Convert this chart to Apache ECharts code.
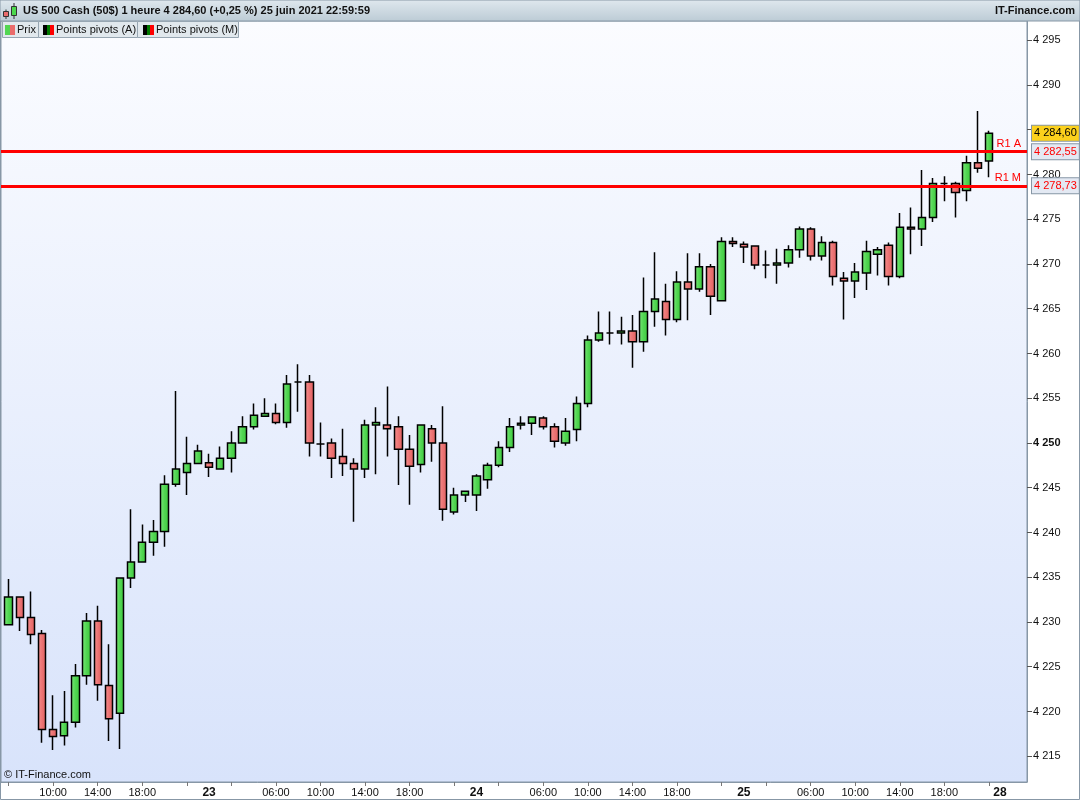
<!DOCTYPE html>
<html><head><meta charset="utf-8">
<script src="https://cdn.jsdelivr.net/npm/echarts@6/dist/echarts.min.js"></script>
<style>html,body{margin:0;padding:0;background:#fff}#c{width:1080px;height:800px}</style>
</head><body><div id="c"></div>
<script>
// Hourly candles, 22 June 2021 06:00 -> 25 June 2021 22:00
const opens  = [4229.7,4232.8,4230.5,4228.7,4218.0,4217.3,4218.8,4224.0,4230.1,4222.9,
                4219.8,4234.9,4236.7,4238.9,4240.1,4245.4,4246.7,4247.7,4247.8,4247.1,
                4248.3,4250.0,4251.8,4253.0,4253.3,4252.3,4256.8,4256.8,4249.9,4250.0,
                4248.5,4247.7,4247.1,4252.0,4252.0,4251.8,4249.3,4247.6,4251.6,4250.0,
                4242.3,4244.2,4244.2,4245.9,4247.5,4249.5,4252.0,4252.2,4252.8,4251.8,
                4250.0,4251.5,4254.4,4261.5,4262.3,4262.3,4262.5,4261.3,4264.7,4265.8,
                4263.8,4268.0,4267.2,4269.7,4265.9,4272.5,4272.2,4272.0,4269.9,4269.9,
                4270.1,4271.6,4273.9,4270.9,4272.4,4268.4,4268.1,4269.0,4271.1,4272.1,
                4268.6,4274.1,4273.9,4275.2,4279.0,4279.0,4278.2,4281.3,4281.5];
const closes = [4232.8,4230.5,4228.6,4218.0,4217.2,4218.8,4224.0,4230.1,4223.0,4219.2,
                4234.9,4236.7,4238.9,4240.1,4245.4,4247.1,4247.7,4249.1,4247.3,4248.3,
                4250.0,4251.8,4253.1,4253.3,4252.3,4256.6,4256.8,4250.0,4249.9,4248.3,
                4247.7,4247.1,4252.0,4252.3,4251.6,4249.3,4247.4,4252.0,4250.0,4242.6,
                4244.2,4244.6,4246.3,4247.5,4249.5,4251.8,4252.2,4252.9,4251.8,4250.2,
                4251.3,4254.4,4261.5,4262.3,4262.3,4262.5,4261.3,4264.7,4266.1,4263.8,
                4268.0,4267.2,4269.7,4266.4,4272.5,4272.3,4271.9,4269.9,4269.9,4270.1,
                4271.6,4273.9,4270.9,4272.4,4268.6,4268.1,4269.1,4271.4,4271.6,4268.6,
                4274.1,4273.9,4275.2,4279.0,4279.0,4278.0,4281.3,4280.7,4284.6];
const lows   = [4229.7,4229.0,4227.5,4216.5,4215.7,4216.2,4218.2,4223.0,4221.2,4216.7,
                4215.8,4233.8,4236.7,4237.4,4238.4,4245.1,4244.2,4247.7,4246.2,4247.1,
                4246.7,4250.0,4251.5,4253.0,4252.1,4251.7,4253.5,4248.5,4248.5,4246.1,
                4246.3,4241.2,4246.1,4246.5,4248.5,4245.3,4243.1,4246.7,4247.9,4241.3,
                4242.0,4243.4,4242.4,4244.9,4247.3,4249.0,4251.5,4250.9,4251.5,4249.5,
                4249.7,4250.2,4254.0,4261.3,4261.0,4261.0,4258.4,4260.2,4263.0,4262.0,
                4263.5,4263.7,4266.9,4264.3,4265.8,4271.9,4270.1,4269.4,4268.4,4267.8,
                4269.6,4270.7,4270.4,4270.4,4267.6,4263.8,4266.2,4267.1,4268.7,4267.6,
                4268.4,4271.1,4272.0,4274.7,4277.0,4275.2,4277.0,4280.2,4279.7];
const highs  = [4234.8,4232.8,4233.4,4229.1,4221.8,4222.3,4225.3,4231.0,4231.8,4227.5,
                4234.9,4242.6,4240.9,4241.4,4246.4,4255.8,4250.7,4249.8,4248.8,4249.6,
                4251.3,4253.0,4254.4,4255.0,4254.4,4257.6,4258.8,4257.6,4252.3,4250.5,
                4251.6,4248.3,4252.6,4254.0,4256.3,4253.0,4250.9,4252.0,4252.0,4254.1,
                4245.0,4244.6,4246.5,4247.8,4250.2,4252.8,4253.0,4253.0,4253.0,4252.2,
                4252.8,4255.2,4262.0,4264.7,4264.7,4264.1,4264.3,4268.5,4271.3,4267.8,
                4269.2,4271.2,4271.2,4270.0,4273.0,4273.0,4272.5,4272.0,4271.5,4271.7,
                4272.1,4274.2,4274.1,4273.1,4272.6,4269.1,4270.1,4272.6,4271.9,4272.4,
                4275.7,4276.3,4280.5,4279.6,4279.8,4279.2,4282.1,4287.1,4284.9];

const xLabelPos  = [4, 8, 12, 18, 24, 28, 32, 36, 42, 48, 52, 56, 60, 66, 72, 76, 80, 84, 89];
const xLabelText = ['10:00','14:00','18:00','23','06:00','10:00','14:00','18:00','24',
                    '06:00','10:00','14:00','18:00','25','06:00','10:00','14:00','18:00','28'];
const xTickPos   = [0,4,8,12,16,20,24,28,32,36,40,44,48,52,56,60,64,68,72,76,80,84,88];
const yTickValues = [4215,4220,4225,4230,4235,4240,4245,4250,4255,4260,4265,4270,4275,4280,4285,4290,4295];

const lastPrice = 4284.60, lastPriceText = '4 284,60';
const pivotA = 4282.55, pivotAText = '4 282,55', pivotAName = 'R1 A';
const pivotM = 4278.73, pivotMText = '4 278,73', pivotMName = 'R1 M';
const titleText = 'US 500 Cash (50$) 1 heure 4 284,60 (+0,25 %) 25 juin 2021 22:59:59';

const candles = opens.map((o, i) => [i, o, closes[i], lows[i], highs[i]]);
const FONT = '"Liberation Sans", Arial, sans-serif';
const LG = (x, y, x2, y2, stops) => new echarts.graphic.LinearGradient(x, y, x2, y2, stops.map((c, i) => ({offset: i / (stops.length - 1), color: c})));

const chart = echarts.init(document.getElementById('c'), null, {renderer: 'canvas'});

const tagLabel = (text, bg, color) => ({
  show: true, position: 'end', formatter: text, distance: 5,
  backgroundColor: bg, borderColor: '#8797a6', borderWidth: 1, opacity: 1,
  padding: [2, 2, 1, 2], color: color, fontSize: 11, fontFamily: FONT, lineHeight: 12
});
const nameLabel = (text) => ({
  show: true, position: 'insideEndTop', formatter: text, distance: [6, 2],
  color: '#ff0000', fontSize: 11, fontFamily: FONT
});
const redLine = {color: '#ff0000', width: 3, type: 'solid'};

chart.setOption({
  animation: false,
  backgroundColor: '#ffffff',
  grid: {
    left: 1, right: 53, top: 21, bottom: 18, show: true,
    backgroundColor: LG(0, 0, 0, 1, ['#fbfcff', '#d8e3fb']),
    borderColor: '#8797a6', borderWidth: 1
  },
  xAxis: {
    type: 'value', min: -0.68, max: 91.42,
    axisLine: {show: true, onZero: false, lineStyle: {color: '#8797a6', width: 1}},
    splitLine: {show: false},
    axisTick: {show: true, customValues: xTickPos, length: 4, lineStyle: {color: '#777'}},
    axisLabel: {
      customValues: xLabelPos, margin: 5, fontSize: 11, fontFamily: FONT, color: '#111',
      formatter: v => {
        const k = xLabelPos.indexOf(Math.round(v));
        if (k < 0) return '';
        const t = xLabelText[k];
        return t.indexOf(':') < 0 ? '{d|' + t + '}' : t;
      },
      rich: {d: {fontWeight: 'bold', fontSize: 12, fontFamily: FONT, color: '#111'}}
    }
  },
  yAxis: {
    type: 'value', position: 'right', min: 4212.12, max: 4297.15, scale: true,
    axisLine: {show: true, onZero: false, lineStyle: {color: '#8797a6', width: 1}},
    splitLine: {show: false},
    axisTick: {show: true, customValues: yTickValues, length: 5, lineStyle: {color: '#555'}},
    axisLabel: {
      customValues: yTickValues, margin: 6, fontSize: 11, fontFamily: FONT, color: '#111',
      formatter: v => {
        const s = String(Math.round(v));
        const t = s.slice(0, 1) + ' ' + s.slice(1);
        return Math.round(v) === 4250 ? '{b|' + t + '}' : t;
      },
      rich: {b: {fontWeight: 'bold', fontSize: 11, fontFamily: FONT, color: '#111'}}
    }
  },
  series: [{
    type: 'candlestick',
    data: candles,
    barWidth: 7.8,
    itemStyle: {
      color: LG(0, 0, 1, 0, ['#7de97d', '#52d652', '#3cc83c']),
      color0: LG(0, 0, 1, 0, ['#f69090', '#ec7474', '#de5e5e']),
      borderColor: '#000', borderColor0: '#000', borderColorDoji: '#000',
      borderWidth: 1.5
    },
    markLine: {
      symbol: 'none', silent: true, animation: false,
      data: [
        {yAxis: pivotA, lineStyle: redLine, label: nameLabel(pivotAName)},
        {yAxis: pivotA, lineStyle: redLine, label: tagLabel(pivotAText, '#e3e9f3', '#ff0000')},
        {yAxis: pivotM, lineStyle: redLine, label: nameLabel(pivotMName)},
        {yAxis: pivotM, lineStyle: redLine, label: tagLabel(pivotMText, '#e3e9f3', '#ff0000')},
        {yAxis: lastPrice, lineStyle: {color: 'rgba(0,0,0,0)', width: 1, type: 'solid'}, label: tagLabel(lastPriceText, '#fcd11c', '#000')}
      ]
    }
  }],
  graphic: [
    {type: 'rect', z: 100, shape: {x: 0, y: 0, width: 1080, height: 21},
     style: {fill: LG(0, 0, 0, 1, ['#dfe8ee', '#bccbd5']), stroke: '#8797a6', lineWidth: 1}},
    // header icon
    {type: 'line', z: 101, shape: {x1: 6, y1: 9.5, x2: 6, y2: 19}, style: {stroke: '#333', lineWidth: 1}},
    {type: 'rect', z: 102, shape: {x: 3.5, y: 11.5, width: 5, height: 5}, style: {fill: '#ea6c6c', stroke: '#333', lineWidth: 1}},
    {type: 'line', z: 101, shape: {x1: 14, y1: 3, x2: 14, y2: 19}, style: {stroke: '#333', lineWidth: 1}},
    {type: 'rect', z: 102, shape: {x: 11.5, y: 6.5, width: 5, height: 9}, style: {fill: '#4cd84c', stroke: '#333', lineWidth: 1}},
    {type: 'text', z: 103, x: 23, y: 11, style: {text: titleText, font: 'bold 11px ' + FONT, fill: '#111', textVerticalAlign: 'middle'}},
    {type: 'text', z: 103, x: 1075, y: 11, style: {text: 'IT-Finance.com', font: 'bold 11px ' + FONT, fill: '#111', textAlign: 'right', textVerticalAlign: 'middle'}},
    // tabs
    {type: 'rect', z: 100, shape: {x: 2.5, y: 21.5, width: 36, height: 16}, style: {fill: '#e1e8ed', stroke: '#97a6b2', lineWidth: 1}},
    {type: 'rect', z: 100, shape: {x: 38.5, y: 21.5, width: 99, height: 16}, style: {fill: '#e1e8ed', stroke: '#97a6b2', lineWidth: 1}},
    {type: 'rect', z: 100, shape: {x: 137.5, y: 21.5, width: 101, height: 16}, style: {fill: '#e1e8ed', stroke: '#97a6b2', lineWidth: 1}},
    {type: 'rect', z: 101, shape: {x: 5, y: 25, width: 5, height: 10}, style: {fill: '#52d652'}},
    {type: 'rect', z: 101, shape: {x: 10, y: 25, width: 5, height: 10}, style: {fill: '#ea6c6c'}},
    {type: 'text', z: 103, x: 17, y: 29.5, style: {text: 'Prix', font: '11px ' + FONT, fill: '#111', textVerticalAlign: 'middle'}},
    {type: 'rect', z: 101, shape: {x: 43, y: 25, width: 4, height: 10}, style: {fill: '#000'}},
    {type: 'rect', z: 101, shape: {x: 47, y: 25, width: 3, height: 10}, style: {fill: '#007a00'}},
    {type: 'rect', z: 101, shape: {x: 50, y: 25, width: 4, height: 10}, style: {fill: '#ff0000'}},
    {type: 'text', z: 103, x: 56, y: 29.5, style: {text: 'Points pivots (A)', font: '11px ' + FONT, fill: '#111', textVerticalAlign: 'middle'}},
    {type: 'rect', z: 101, shape: {x: 143, y: 25, width: 4, height: 10}, style: {fill: '#000'}},
    {type: 'rect', z: 101, shape: {x: 147, y: 25, width: 3, height: 10}, style: {fill: '#007a00'}},
    {type: 'rect', z: 101, shape: {x: 150, y: 25, width: 4, height: 10}, style: {fill: '#ff0000'}},
    {type: 'text', z: 103, x: 156, y: 29.5, style: {text: 'Points pivots (M)', font: '11px ' + FONT, fill: '#111', textVerticalAlign: 'middle'}},
    // copyright
    {type: 'text', z: 103, x: 4, y: 775, style: {text: '© IT-Finance.com', font: '11px ' + FONT, fill: '#111', textVerticalAlign: 'middle'}},
    // outer frame
    {type: 'rect', z: 99, shape: {x: 0.5, y: 0.5, width: 1079, height: 799}, style: {fill: 'none', stroke: '#8797a6', lineWidth: 1}}
  ]
});
</script>
</body></html>
